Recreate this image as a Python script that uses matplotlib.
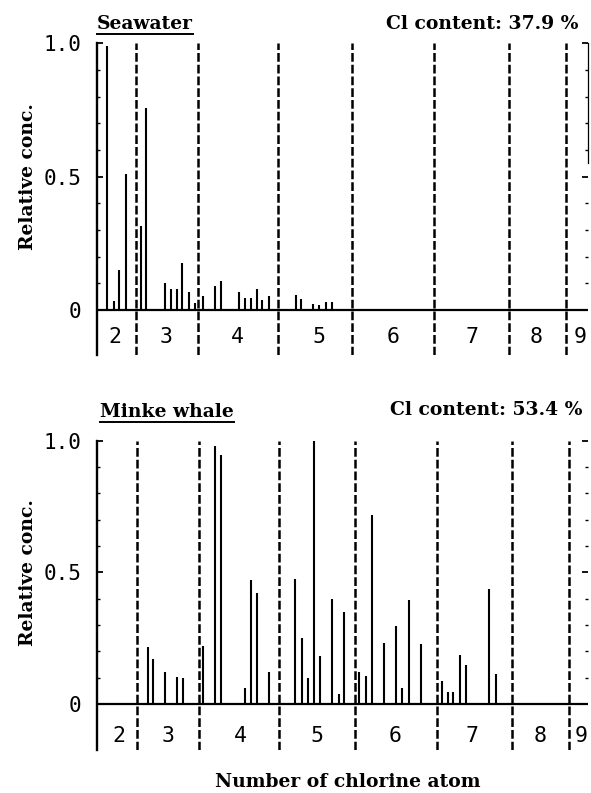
import matplotlib
matplotlib.use("Agg")
import matplotlib.pyplot as plt
from matplotlib.lines import Line2D

# ---------------- data (positions along retention axis, relative conc.) -------------
sea_pos = [107, 113.5, 119, 126, 141, 146, 165, 171, 177, 182, 189, 195, 203, 215, 221,
           239, 245, 251, 257, 262.5, 269, 296, 301, 313, 319, 326, 332]
sea_val = [0.99, 0.034, 0.15, 0.51, 0.315, 0.756, 0.10, 0.078, 0.08, 0.175, 0.068, 0.025,
           0.052, 0.088, 0.11, 0.067, 0.046, 0.046, 0.077, 0.036, 0.051, 0.056, 0.04,
           0.022, 0.018, 0.028, 0.028]

whale_pos = [148, 153, 165, 177, 183, 203, 215, 221, 245, 251, 257, 269, 295.5, 302, 308,
             314, 320, 332, 339, 344, 359, 366, 372, 384, 396, 402, 409, 421, 442, 448,
             453, 460, 466, 489, 496]
whale_val = [0.215, 0.172, 0.123, 0.104, 0.098, 0.22, 0.98, 0.947, 0.062, 0.469, 0.423,
             0.123, 0.474, 0.252, 0.098, 1.0, 0.183, 0.40, 0.038, 0.349, 0.123, 0.106,
             0.717, 0.231, 0.297, 0.06, 0.393, 0.227, 0.087, 0.047, 0.047, 0.186, 0.148,
             0.436, 0.113]

# boundaries between chlorine-number groups
sea_bounds = [135.7, 197.7, 278.3, 352.3, 434.3, 509, 565.7]
whale_bounds = [136.7, 199, 279.3, 355, 437.3, 512.3, 569.3]

group_labels = ["2", "3", "4", "5", "6", "7", "8", "9"]
sea_label_pos = [115, 166, 237, 319, 393, 472, 536, 580]
whale_label_pos = [119, 168, 240, 317, 395, 472, 540, 581]

titles = ["Seawater", "Minke whale"]
cl_content = ["37.9", "53.4"]

# ---------------- figure -------------
W, H = 591, 793
fig = plt.figure(figsize=(W / 100, H / 100), dpi=100)

serif_bold = dict(family="DejaVu Serif", fontweight="bold")
mono = "DejaVu Sans Mono"
TXT = 13.5

XMIN, XMAX = 97, 588

def make_panel(rect, ymin, pos, val, bounds, lab_pos, lab_y, right_spine):
    ax = fig.add_axes(rect)
    ax.set_xlim(XMIN, XMAX)
    ax.set_ylim(ymin, 1.0)
    ax.vlines(pos, 0, val, colors="black", lw=1.5)
    ax.vlines(bounds, ymin, 1.0, colors="black", lw=1.8, linestyles=(0, (3.5, 1.2)))
    ax.axhline(0, color="black", lw=1.6)
    for sp in ["top", "bottom"]:
        ax.spines[sp].set_visible(False)
    ax.spines["left"].set_linewidth(1.7)
    ax.spines["right"].set_linewidth(0.9)
    ax.spines["right"].set_bounds(0.55, 1.0)
    ax.spines["right"].set_visible(right_spine)
    ax.set_xticks([])
    ax.set_yticks([0, 0.5, 1.0])
    ax.set_yticklabels(["0", "0.5", "1.0"], fontfamily=mono, fontsize=15)
    ax.set_yticks([0.1, 0.2, 0.3, 0.4, 0.6, 0.7, 0.8, 0.9], minor=True)
    ax.tick_params(axis="y", which="major", direction="in", length=4, width=1.3,
                   pad=11, left=True, right=True)
    ax.tick_params(axis="y", which="minor", direction="in", length=2, width=1.0,
                   left=True, right=True)
    for x, t in zip(lab_pos, group_labels):
        ax.text(x, lab_y, t, ha="center", va="center", fontfamily=mono, fontsize=15.5)
    ax.set_ylabel("Relative conc.", fontsize=TXT, **serif_bold)
    ax.yaxis.set_label_coords(-0.123, (0.5 - ymin) / (1.0 - ymin))
    return ax

ax1 = make_panel([97 / W, 1 - 355 / H, (XMAX - 97) / W, (355 - 43.3) / H],
                 -0.169, sea_pos, sea_val, sea_bounds, sea_label_pos, -0.10, True)
ax2 = make_panel([97 / W, 1 - 750 / H, (XMAX - 97) / W, (750 - 440.7) / H],
                 -0.175, whale_pos, whale_val, whale_bounds, whale_label_pos, -0.122, False)

# titles and Cl content
t1 = fig.text(97 / W, 1 - 24 / H, titles[0], ha="left", va="center", fontsize=TXT, **serif_bold)
fig.text(579 / W, 1 - 24 / H, f"Cl content: {cl_content[0]} %", ha="right", va="center",
         fontsize=TXT, **serif_bold)
t2 = fig.text(100 / W, 1 - 412 / H, titles[1], ha="left", va="center", fontsize=TXT, **serif_bold)
fig.text(582 / W, 1 - 410 / H, f"Cl content: {cl_content[1]} %", ha="right", va="center",
         fontsize=TXT, **serif_bold)

fig.text(348 / W, 1 - 782 / H, "Number of chlorine atom", ha="center", va="center",
         fontsize=TXT, **serif_bold)

# underline the sample titles
fig.canvas.draw()
r = fig.canvas.get_renderer()
for t in (t1, t2):
    bb = t.get_window_extent(renderer=r)
    y = (bb.y0 - 1) / H
    fig.add_artist(Line2D([bb.x0 / W, bb.x1 / W], [y, y], color="black", lw=1.4,
                          transform=fig.transFigure))

fig.savefig("out.png", dpi=100)
